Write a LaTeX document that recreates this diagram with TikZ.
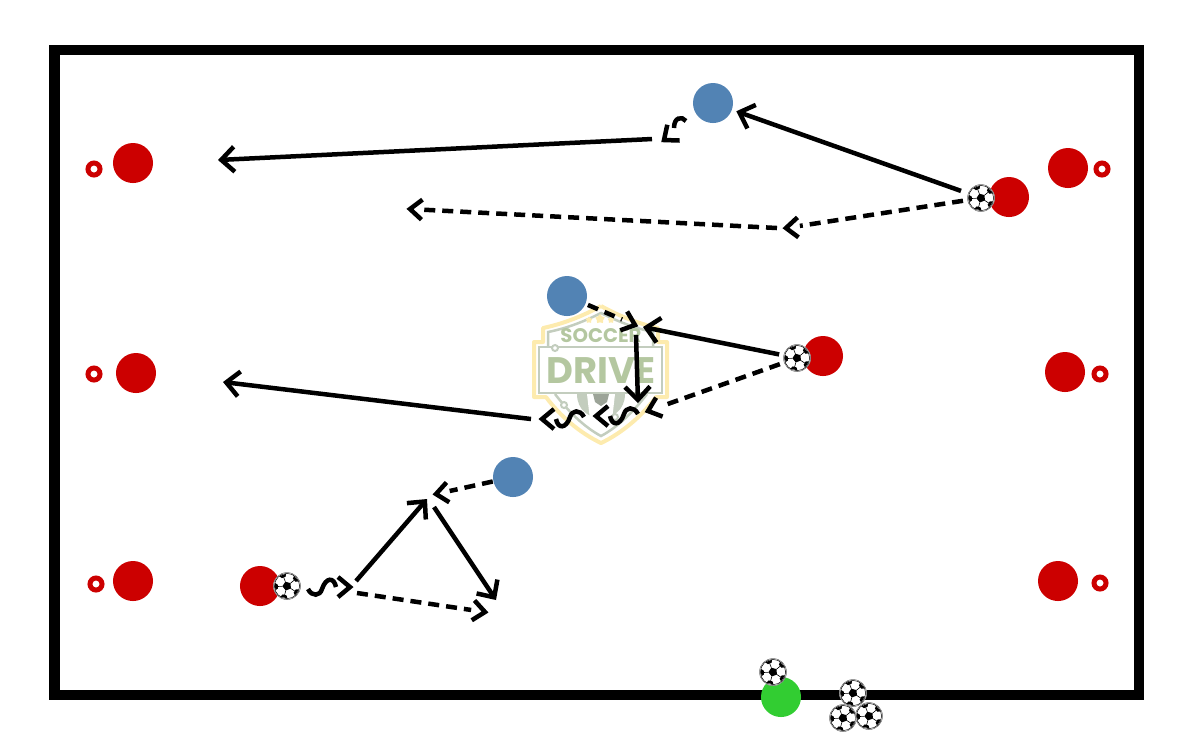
\documentclass[tikz,border=0pt]{standalone}
\usepackage{fontspec}
\setmainfont{Poppins}
\usetikzlibrary{arrows.meta,shapes.geometric}

\definecolor{playerred}{HTML}{CC0000}
\definecolor{playerblue}{HTML}{5283B4}
\definecolor{playergreen}{HTML}{32CD32}
\definecolor{logoyellow}{HTML}{FDEBAE}
\definecolor{logogrey}{HTML}{C3CDBE}
\definecolor{logogreen}{HTML}{B4C7A0}

\tikzset{
  player/.style={circle, inner sep=0, minimum size=.4cm, fill=#1},
  ballnode/.style={circle, inner sep=0, minimum size=.27cm},
  target/.style={circle, inner sep=0, minimum size=.12cm, draw=playerred, line width=.05cm, fill=white},
  barb/.tip={Straight Barb[length=.13cm, width=.25cm, line width=.045cm]},
  pass/.style={line width=.045cm, -{barb}},
  run/.style={line width=.045cm, dash pattern=on .11cm off .07cm, shorten >=.14cm},
  wiggle/.style={line width=.045cm},
  chevron/.pic={
    \draw[wiggle] (12,-10) -- (0,0) -- (12,10);
  },
  dribble/.pic={
    \draw[wiggle] (12,-10) -- (0,0) -- (12,10);
    \draw[wiggle] (14,0) .. controls (16,10) and (24,10) .. (28,-2) .. controls (30,-9) and (38,-10) .. (42,-2);
  },
  football/.pic={
    \fill[white] (0,0) circle (13.8);
    \draw[black!60, line width=.005cm] (0,0) circle (13.5);
    \draw[black, line width=.005cm] (0,0) circle (12.6);
    \fill[black] (105:4.6) -- (177:4.6) -- (249:4.6) -- (321:4.6) -- (33:4.6) -- cycle;
    \foreach \a in {105,177,249,321,33} {
      \fill[black] (\a-17:12.4) -- (\a+17:12.4) -- (\a+12:9.4) -- (\a-12:9.4) -- cycle;
      \draw[black, line width=.006cm] (\a:4.6) -- (\a:9.4);
    }
  }
}

\begin{document}
\begin{tikzpicture}[x=.01cm, y=-.01cm]
  \useasboundingbox (0,0) rectangle (1200,750);

  % Logo behind the drill
  \fill[logogrey] (577,394) .. controls (577,426) and (625,426) .. (625,394) -- cycle;
  \fill[white] (587,394) -- (615,394) -- (612,420) -- (590,420) -- cycle;
  \fill[logogrey!80!black] (593,394) -- (609,394) -- (607,402) -- (601,406) -- (595,402) -- cycle;
  \draw[logoyellow, line width=.04cm, line join=round]
    (601,306) .. controls (581,317) and (562,324) .. (543,328) -- (543,342) -- (534,342) -- (534,397) -- (546,397)
    .. controls (560,416) and (580,433) .. (601,443) .. controls (622,433) and (642,416) .. (656,397)
    -- (667,397) -- (667,342) -- (658,342) -- (658,328) .. controls (640,324) and (621,317) .. (601,306);
  \draw[logogrey, line width=.025cm]
    (548,347) -- (548,332) .. controls (568,328) and (585,321) .. (601,313) .. controls (617,321) and (634,328) .. (653,332) -- (653,347);
  \draw[logogrey, line width=.025cm]
    (555,394) .. controls (568,411) and (584,427) .. (601,436) .. controls (618,427) and (634,411) .. (647,394);
  \draw[logogrey, line width=.025cm] (539,347) rectangle (662,393);
  \draw[logogrey, line width=.02cm, fill=white] (555,348) circle (3);
  \draw[logogrey, line width=.02cm, fill=white] (564,405) circle (3);
  \draw[logogrey, line width=.02cm, fill=white] (615,417) circle (3);
  \node[logoyellow, star, star points=5, fill, inner sep=0, minimum size=.07cm] (starA) at (589,320) {};
  \node[logoyellow, star, star points=5, fill, inner sep=0, minimum size=.1cm] (starB) at (600,319) {};
  \node[logoyellow, star, star points=5, fill, inner sep=0, minimum size=.07cm] (starC) at (611,320) {};
  \node[logogreen, inner sep=0] (logoA) at (601,336) {\fontsize{5.6}{6}\selectfont\bfseries SOCCER};
  \node[logogreen, inner sep=0] (logoB) at (601,371) {\fontsize{10.5}{12}\selectfont\bfseries DRIVE};

  % Field
  \draw[black, line width=.1cm] (54.5,49.5) rectangle (1139.3,694.5);

  % Players
  \foreach \n/\x/\y in {redA/133/163, redB/1068/168, redC/1009/197, redD/136/373,
                        redE/823/356, redF/1065/372, redG/133/581, redH/260/586, redI/1058/581}
    \node[player=playerred] (\n) at (\x,\y) {};
  \foreach \n/\x/\y in {blueA/713/103, blueB/567/296, blueC/513/477}
    \node[player=playerblue] (\n) at (\x,\y) {};
  \node[player=playergreen] (coach) at (781,697) {};

  % Targets
  \foreach \n/\x/\y in {targetA/94/169, targetB/1102/169, targetC/94/374,
                        targetD/1100/374, targetE/96/584, targetF/1100/583}
    \node[target] (\n) at (\x,\y) {};

  % Balls
  \foreach \n/\x/\y in {ballA/981/198, ballB/797/358, ballC/287/586, ballD/773/672,
                        ballE/853/693, ballF/843/718, ballG/869/716} {
    \node[ballnode] (\n) at (\x,\y) {};
    \pic at (\n) {football};
  }

  % Free ends
  \coordinate (topA) at (652,139);
  \coordinate (topB) at (218,160);
  \coordinate (topC) at (786,228);
  \coordinate (topD) at (777,228);
  \coordinate (topE) at (410,209);
  \coordinate (midA) at (643,327);
  \coordinate (midB) at (636,335);
  \coordinate (midC) at (638,403);
  \coordinate (midD) at (635,325);
  \coordinate (midE) at (648,411);
  \coordinate (midF) at (531,419);
  \coordinate (midG) at (223,382);
  \coordinate (lowA) at (356,581);
  \coordinate (lowB) at (427,499);
  \coordinate (lowC) at (434,507);
  \coordinate (lowD) at (496,600);
  \coordinate (lowE) at (357,593);
  \coordinate (lowF) at (485,612);
  \coordinate (lowG) at (436,494);

  % Top group
  \draw[pass, shorten <=.07cm, shorten >=.04cm] (ballA) -- (blueA);
  \draw[run, shorten <=.04cm] (ballA) -- (topC);
  \pic[rotate=3] at (topC) {chevron};
  \draw[run] (topD) -- (topE);
  \pic[rotate=-3] at (topE) {chevron};
  \pic[rotate=38] at (664,140) {chevron};
  \draw[wiggle] (686,121) .. controls (682,116) and (674,117) .. (674,128);
  \draw[pass] (topA) -- (topB);

  % Middle group
  \draw[pass, shorten <=.04cm] (ballB) -- (midA);
  \draw[pass] (midB) -- (midC);
  \draw[run, shorten <=.02cm] (blueB) -- (midD);
  \pic[rotate=160] at (midD) {chevron};
  \draw[run, shorten <=.04cm] (ballB) -- (midE);
  \pic[rotate=19] at (midE) {chevron};
  \pic at (596,416) {dribble};
  \pic at (542,419) {dribble};
  \draw[pass] (midF) -- (midG);

  % Bottom group
  \pic[rotate=180] at (350,587) {dribble};
  \draw[pass] (lowA) -- (lowB);
  \draw[pass] (lowC) -- (lowD);
  \draw[run] (lowE) -- (lowF);
  \pic[rotate=172] at (lowF) {chevron};
  \draw[run] (blueC) -- (lowG);
  \pic[rotate=8] at (lowG) {chevron};

\end{tikzpicture}
\end{document}
